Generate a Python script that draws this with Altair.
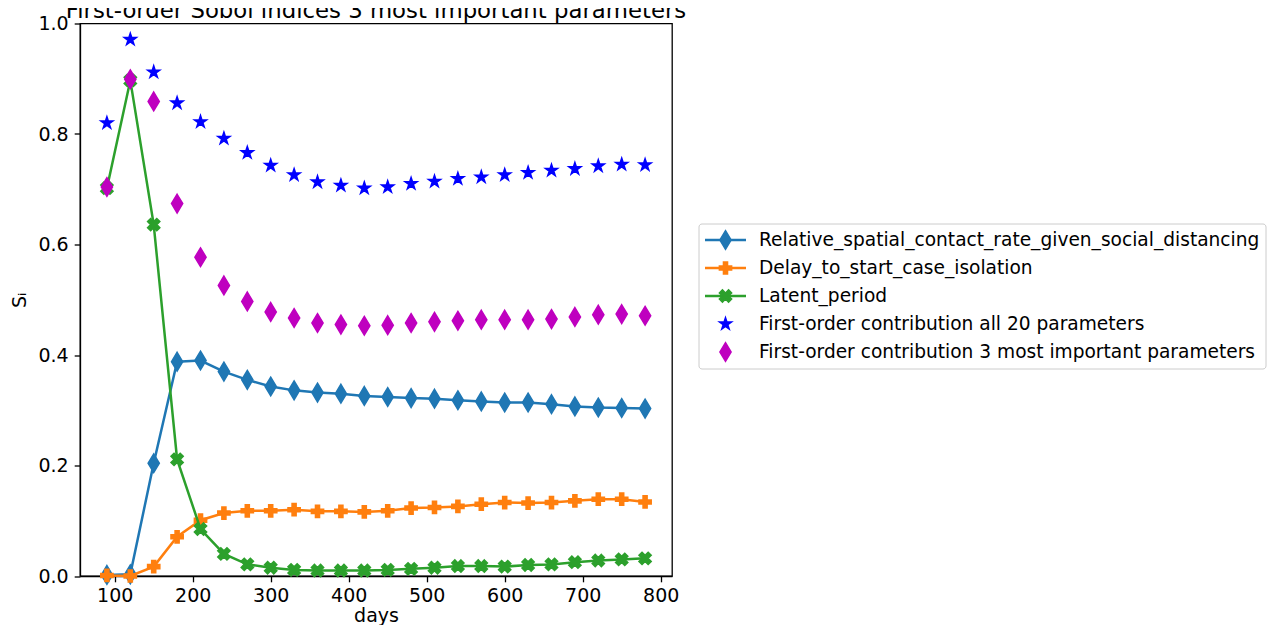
import altair as alt
import pandas as pd

# ---------------- data ----------------
days = [90, 120, 150, 180, 210, 240, 270, 300, 330, 360, 390, 420,
        450, 480, 510, 540, 570, 600, 630, 660, 690, 720, 750, 780]

relative_spatial = [0.002, 0.003, 0.204, 0.388, 0.390, 0.370, 0.355, 0.343,
                    0.336, 0.332, 0.330, 0.326, 0.324, 0.322, 0.321, 0.318,
                    0.316, 0.314, 0.314, 0.311, 0.307, 0.305, 0.304, 0.303]
delay_isolation = [0.001, 0.000, 0.017, 0.071, 0.101, 0.114, 0.118, 0.118,
                   0.120, 0.117, 0.117, 0.116, 0.118, 0.123, 0.124, 0.126,
                   0.130, 0.133, 0.132, 0.133, 0.136, 0.139, 0.139, 0.134]
latent_period = [0.702, 0.897, 0.636, 0.211, 0.085, 0.040, 0.021, 0.015,
                 0.011, 0.010, 0.010, 0.010, 0.011, 0.013, 0.015, 0.018,
                 0.018, 0.017, 0.020, 0.021, 0.025, 0.028, 0.030, 0.032]
first_order_all20 = [0.820, 0.971, 0.912, 0.856, 0.822, 0.792, 0.766, 0.743,
                     0.726, 0.713, 0.707, 0.702, 0.704, 0.710, 0.714, 0.719,
                     0.722, 0.726, 0.730, 0.734, 0.737, 0.742, 0.745, 0.744]
first_order_top3 = [0.704, 0.899, 0.859, 0.674, 0.577, 0.526, 0.497, 0.478,
                    0.467, 0.458, 0.455, 0.453, 0.454, 0.458, 0.460, 0.462,
                    0.464, 0.464, 0.464, 0.465, 0.469, 0.473, 0.474, 0.471]

labels = ["Relative_spatial_contact_rate_given_social_distancing",
          "Delay_to_start_case_isolation",
          "Latent_period",
          "First-order contribution all 20 parameters",
          "First-order contribution 3 most important parameters"]
series = [relative_spatial, delay_isolation, latent_period,
          first_order_all20, first_order_top3]
has_line = [True, True, True, False, False]
colors = ["#1f77b4", "#ff7f0e", "#2ca02c", "#0000ff", "#bf00bf"]

title_text = "First-order Sobol indices 3 most important parameters"
x_ticks = [100, 200, 300, 400, 500, 600, 700, 800]
y_ticks = [0.0, 0.2, 0.4, 0.6, 0.8, 1.0]

# ---------------- marker shapes (styles) ----------------
THIN_DIAMOND = "M0,-1L0.6,0L0,1L-0.6,0Z"
PLUS_FILLED = ("M-0.333,-1L0.333,-1L0.333,-0.333L1,-0.333L1,0.333L0.333,0.333"
               "L0.333,1L-0.333,1L-0.333,0.333L-1,0.333L-1,-0.333L-0.333,-0.333Z")
X_FILLED = ("M0.5,-1L1,-0.5L0.5,0L1,0.5L0.5,1L0,0.5L-0.5,1L-1,0.5L-0.5,0"
            "L-1,-0.5L-0.5,-1L0,-0.5Z")
STAR = ("M0,-1L0.2245,-0.309L0.951,-0.309L0.363,0.118L0.588,0.809L0,0.382"
        "L-0.588,0.809L-0.363,0.118L-0.951,-0.309L-0.2245,-0.309Z")
shapes = [THIN_DIAMOND, PLUS_FILLED, X_FILLED, STAR, THIN_DIAMOND]
sizes = [350, 150, 150, 160, 350]

FONT = "DejaVu Sans"
FS = 19

color_enc = alt.Color("label:N", scale=alt.Scale(domain=labels, range=colors), legend=None)
stroke_enc = alt.Stroke("label:N", scale=alt.Scale(domain=labels, range=colors), legend=None)

x_enc = alt.X("day:Q", scale=alt.Scale(domain=[55.5, 814.5], nice=False, zero=False),
              axis=alt.Axis(values=x_ticks, title="days", format="d",
                            titlePadding=1, labelPadding=5))
y_enc = alt.Y("value:Q", scale=alt.Scale(domain=[0, 1], nice=False),
              axis=alt.Axis(values=y_ticks, format=".1f", title="Sᵢ",
                            titlePadding=8, labelPadding=6))

main_layers = []
for i, (lab, vals) in enumerate(zip(labels, series)):
    df = pd.DataFrame({"day": days, "value": vals, "label": lab})
    base = alt.Chart(df).encode(x=x_enc, y=y_enc)
    if has_line[i]:
        main_layers.append(base.mark_line(strokeWidth=2.5).encode(color=color_enc))
    main_layers.append(
        base.mark_point(filled=True, opacity=1, strokeWidth=1.5, shape=shapes[i],
                        size=sizes[i]).encode(color=color_enc, stroke=stroke_enc))

main = alt.layer(*main_layers)

# ---------------- legend (drawn as marks) ----------------
legend_df = pd.DataFrame({"label": labels, "row": list(range(len(labels))),
                          "line": has_line})
row_y = alt.Y("row:Q", scale=alt.Scale(domain=[0, 4], range=[216.5, 328.5]), axis=None)

legend_box = alt.Chart(pd.DataFrame({"k": [0]})).mark_rect(
    fill="white", stroke="#cccccc", strokeWidth=1, cornerRadius=3
).encode(x=alt.value(619), x2=alt.value(1186), y=alt.value(200.5), y2=alt.value(345.5))

legend_lines = alt.Chart(legend_df).transform_filter("datum.line").mark_rule(
    strokeWidth=2.5).encode(x=alt.value(625), x2=alt.value(666), y=row_y, color=color_enc)

legend_syms = []
for i, lab in enumerate(labels):
    legend_syms.append(
        alt.Chart(legend_df).transform_filter(alt.datum.label == lab).mark_point(
            filled=True, opacity=1, strokeWidth=1.5, shape=shapes[i], size=sizes[i]
        ).encode(x=alt.value(645.5), y=row_y, color=color_enc, stroke=stroke_enc))

legend_text = alt.Chart(legend_df).mark_text(
    align="left", baseline="middle", font=FONT, fontSize=18.6, color="black"
).encode(x=alt.value(679), y=row_y, text="label:N")

title_mark = alt.Chart(pd.DataFrame({"t": [title_text]})).mark_text(
    align="center", baseline="alphabetic", font=FONT, fontSize=22.8, color="black"
).encode(x=alt.value(296), y=alt.value(-5.5), text="t:N")

legend = alt.layer(legend_box, legend_lines, *legend_syms, legend_text, title_mark)

chart = alt.layer(main, legend).resolve_scale(y="independent").properties(
    width=592,
    height=552.5,
    autosize=alt.AutoSizeParams(type="none"),
    padding={"left": 72, "top": 15.5, "right": 595, "bottom": 49},
).configure_view(
    stroke="black", strokeWidth=1.3
).configure_axis(
    labelFont=FONT, labelFontSize=FS, labelColor="black",
    titleFont=FONT, titleFontSize=FS, titleFontWeight="normal", titleColor="black",
    tickColor="black", tickSize=5.8, tickWidth=1.3,
    domainColor="black", domainWidth=1.3, grid=False
)

chart.save("out.html", embed_options={"renderer": "svg", "actions": False})
